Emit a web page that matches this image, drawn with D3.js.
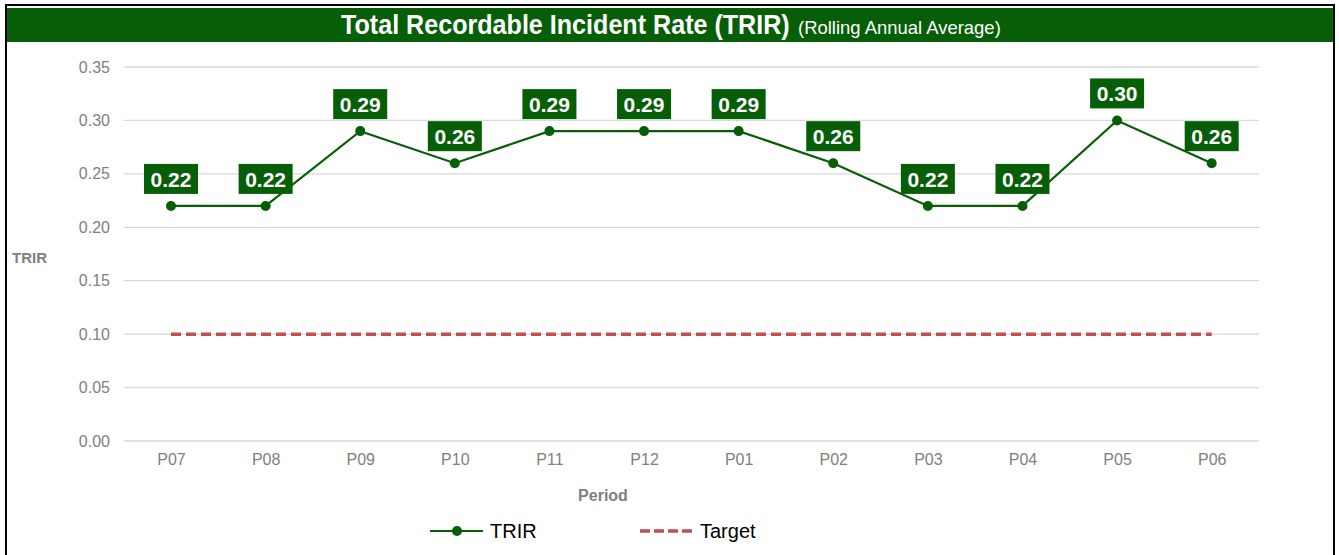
<!DOCTYPE html>
<html>
<head>
<meta charset="utf-8">
<script src="https://cdnjs.cloudflare.com/ajax/libs/d3/7.8.5/d3.min.js"></script>
<style>
  body { margin: 0; background: #fff; }
  svg text { font-family: "Liberation Sans", Arial, sans-serif; }
</style>
</head>
<body>
<script>
'use strict';

const width = 1339;
const height = 555;

const periods = ['P07','P08','P09','P10','P11','P12','P01','P02','P03','P04','P05','P06'];
const trir = [0.22, 0.22, 0.29, 0.26, 0.29, 0.29, 0.29, 0.26, 0.22, 0.22, 0.30, 0.26];
const target = [0.10, 0.10, 0.10, 0.10, 0.10, 0.10, 0.10, 0.10, 0.10, 0.10, 0.10, 0.10];
const yTicks = [0, 0.05, 0.10, 0.15, 0.20, 0.25, 0.30, 0.35];

const green = '#065e06';
const red = '#c0504d';
const grey = '#808080';

let svg = d3.select('body').append('svg')
    .attr('width', width)
    .attr('height', height);

// frame + title bar
svg.append('rect')
    .attr('x', 6).attr('y', 5)
    .attr('width', 1328).attr('height', 560)
    .attr('fill', 'none')
    .attr('stroke', '#000')
    .attr('stroke-width', 2);

svg.append('rect')
    .attr('x', 7).attr('y', 8)
    .attr('width', 1326).attr('height', 34)
    .attr('fill', green);

// condensed title: squeeze natural text into the reference width
function narrowText(str, x0, w, size, weight) {
    let t = svg.append('text')
        .attr('fill', '#fff')
        .attr('font-size', size)
        .attr('font-weight', weight)
        .text(str);
    let natural = t.node().getComputedTextLength();
    t.attr('transform', 'translate(' + x0 + ',34) scale(' + (w / natural) + ',1)');
}
narrowText('Total Recordable Incident Rate (TRIR)', 341, 449, 27, 'bold');
narrowText('(Rolling Annual Average)', 798, 203, 18, 'normal');

let x = d3.scalePoint()
    .domain(periods)
    .range([123.7, 1259])
    .padding(0.5);

let y = d3.scaleLinear()
    .domain([0, 0.35])
    .range([441, 67]);

// gridlines
svg.append('g')
    .selectAll('line')
    .data(yTicks).enter()
    .append('line')
    .attr('x1', 123.7).attr('x2', 1259)
    .attr('y1', d => y(d)).attr('y2', d => y(d))
    .attr('stroke', '#d9d9d9')
    .attr('stroke-width', 1.3);

// y axis labels
let yAxis = svg.append('g')
    .attr('transform', 'translate(123,0)')
    .call(d3.axisLeft(y).tickValues(yTicks).tickFormat(d3.format('.2f')).tickSize(0).tickPadding(13));
yAxis.select('.domain').remove();
yAxis.selectAll('text')
    .attr('fill', grey)
    .style('font-size', '16px')
    .style('font-family', '"Liberation Sans", Arial, sans-serif');

// x axis labels
let xAxis = svg.append('g')
    .attr('transform', 'translate(0,441)')
    .call(d3.axisBottom(x).tickSize(0).tickPadding(13));
xAxis.select('.domain').remove();
xAxis.selectAll('text')
    .attr('fill', grey)
    .style('font-size', '16px')
    .style('font-family', '"Liberation Sans", Arial, sans-serif');

svg.append('text')
    .attr('x', 12).attr('y', 263)
    .attr('font-size', 15).attr('font-weight', 'bold')
    .attr('fill', grey)
    .text('TRIR');

svg.append('text')
    .attr('x', 603).attr('y', 501)
    .attr('text-anchor', 'middle')
    .attr('font-size', 16).attr('font-weight', 'bold')
    .attr('fill', grey)
    .text('Period');

// target line
let line = d3.line()
    .x((d, i) => x(periods[i]))
    .y(d => y(d));

svg.append('path')
    .datum(target)
    .attr('d', line)
    .attr('fill', 'none')
    .attr('stroke', red)
    .attr('stroke-width', 3.5)
    .attr('stroke-dasharray', '10,5');

// TRIR line
svg.append('path')
    .datum(trir)
    .attr('d', line)
    .attr('fill', 'none')
    .attr('stroke', green)
    .attr('stroke-width', 2.2);

svg.append('g')
    .selectAll('circle')
    .data(trir).enter()
    .append('circle')
    .attr('cx', (d, i) => x(periods[i]))
    .attr('cy', d => y(d))
    .attr('r', 5)
    .attr('fill', green);

// data labels
let labels = svg.append('g')
    .selectAll('g')
    .data(trir).enter()
    .append('g')
    .attr('transform', (d, i) => 'translate(' + x(periods[i]) + ',' + (y(d) - 27) + ')');

labels.append('rect')
    .attr('x', -27).attr('y', -15)
    .attr('width', 54).attr('height', 30)
    .attr('fill', green);

labels.append('text')
    .attr('text-anchor', 'middle')
    .attr('y', 8)
    .attr('font-size', 21).attr('font-weight', 'bold')
    .attr('fill', '#fff')
    .text(d => d3.format('.2f')(d));

// legend
let legend = svg.append('g');
legend.append('line')
    .attr('x1', 430).attr('x2', 483)
    .attr('y1', 531).attr('y2', 531)
    .attr('stroke', green).attr('stroke-width', 2.2);
legend.append('circle')
    .attr('cx', 457).attr('cy', 531).attr('r', 5)
    .attr('fill', green);
legend.append('text')
    .attr('x', 490).attr('y', 538)
    .attr('font-size', 20)
    .attr('fill', '#000')
    .text('TRIR');

legend.append('line')
    .attr('x1', 640).attr('x2', 694)
    .attr('y1', 531).attr('y2', 531)
    .attr('stroke', red).attr('stroke-width', 3.5)
    .attr('stroke-dasharray', '10,4');
legend.append('text')
    .attr('x', 700).attr('y', 538)
    .attr('font-size', 20)
    .attr('fill', '#000')
    .text('Target');
</script>
</body>
</html>
